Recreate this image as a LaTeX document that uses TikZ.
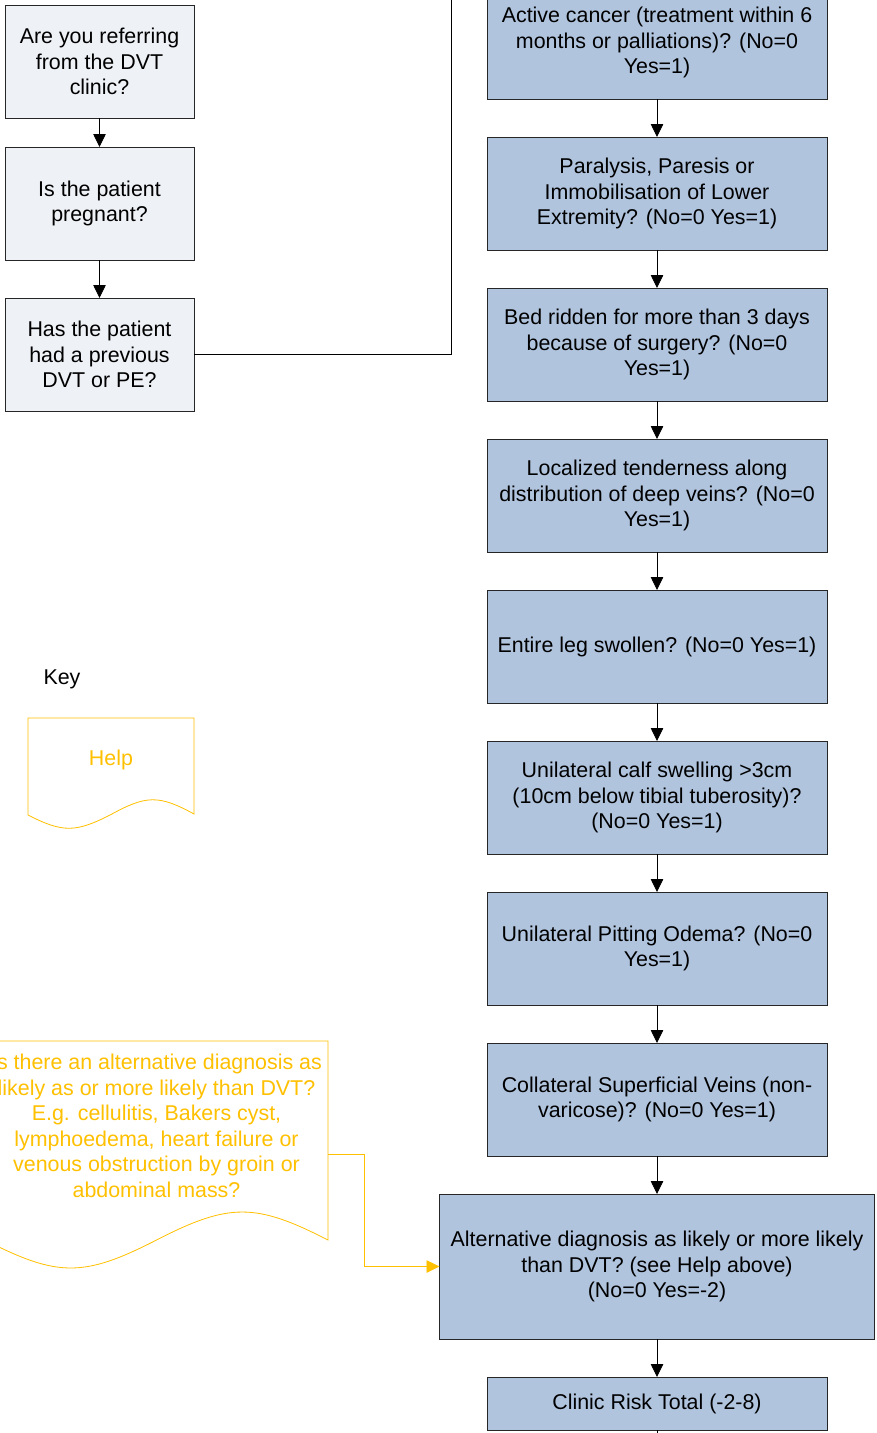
\documentclass[tikz,border=0pt]{standalone}
\usepackage{fontspec}
\setmainfont{Liberation Sans}
\usepackage{tikz}
\usetikzlibrary{positioning,arrows.meta,calc}
\definecolor{riskfill}{RGB}{176,196,222}
\definecolor{askfill}{RGB}{238,241,246}
\definecolor{helpgold}{RGB}{255,192,0}
\tikzset{
  askbox/.style={draw=black!85, line width=0.8pt, fill=askfill, rectangle, minimum width=189pt, minimum height=113pt, align=center, inner sep=0pt, outer sep=0pt},
  riskbox/.style={draw=black!85, line width=0.8pt, fill=riskfill, rectangle, minimum width=340pt, minimum height=113pt, align=center, inner sep=0pt, outer sep=0pt},
  flow/.style={line width=0.8pt, -{Triangle[length=13pt,width=12.5pt]}},
  helpline/.style={draw=helpgold, line width=0.8pt},
}
\begin{document}
\begin{tikzpicture}[node distance=38pt, x=1pt, y=-1pt, font=\fontsize{21.4}{25.5}\selectfont]
            \useasboundingbox (0,0) rectangle (876,1433);
            \node[askbox](referring) at (99.5,61.5){Are you referring\\from the DVT\\clinic?};
            \node[askbox, below=29pt of referring](pregnant){Is the patient\\pregnant?};
            \draw[flow](referring.south)--(pregnant.north);
            \node[askbox, below=of pregnant](previous){Has the patient\\had a previous\\DVT or PE?};
            \draw[flow](pregnant.south)--(previous.north);
            \coordinate(topexit) at (451,-10);
            \draw[line width=0.8pt](previous.east) -| (topexit);

            \node[riskbox](cancer) at (657,42.5){Active cancer (treatment within 6\\months or palliations)? (No=0\\Yes=1)};
            \node[riskbox, below=of cancer](paralysis){Paralysis, Paresis or\\Immobilisation of Lower\\Extremity? (No=0 Yes=1)};
            \draw[flow](cancer.south)--(paralysis.north);
            \node[riskbox, below=of paralysis](bedridden){Bed ridden for more than 3 days\\because of surgery? (No=0\\Yes=1)};
            \draw[flow](paralysis.south)--(bedridden.north);
            \node[riskbox, below=of bedridden](tenderness){Localized tenderness along\\distribution of deep veins? (No=0\\Yes=1)};
            \draw[flow](bedridden.south)--(tenderness.north);
            \node[riskbox, below=of tenderness](legswollen){Entire leg swollen? (No=0 Yes=1)};
            \draw[flow](tenderness.south)--(legswollen.north);
            \node[riskbox, below=of legswollen](calf){Unilateral calf swelling >3cm\\(10cm below tibial tuberosity)?\\(No=0 Yes=1)};
            \draw[flow](legswollen.south)--(calf.north);
            \node[riskbox, below=of calf](pitting){Unilateral Pitting Odema? (No=0\\Yes=1)};
            \draw[flow](calf.south)--(pitting.north);
            \node[riskbox, below=of pitting](collateral){Collateral Superficial Veins (non-\\varicose)? (No=0 Yes=1)};
            \draw[flow](pitting.south)--(collateral.north);
            \node[riskbox, minimum width=435pt, minimum height=145pt, below=of collateral](alt){Alternative diagnosis as likely or more likely\\than DVT? (see Help above)\\(No=0 Yes=-2)};
            \draw[flow](collateral.south)--(alt.north);
            \node[riskbox, minimum height=53pt, below=of alt](total){Clinic Risk Total (-2-8)};
            \draw[flow](alt.south)--(total.north);
            \coordinate(bottomexit) at (657,1450);
            \draw[line width=0.8pt](total.south)--(bottomexit);

            % key
            \node(keylabel) at (62,679){Key};
            \draw[helpline, fill=white](28,815)--(28,718)--(194,718)--(194,814) .. controls (158.8,794.7) and (146.2,795.2) .. (111,814.5) .. controls (75.8,832.5) and (63.2,833) .. (28,815)--cycle;
            \node(helpnote) at (111,760){\color{helpgold}Help};

            % help for the alternative diagnosis
            \draw[helpline, fill=white](-15,1240)--(-15,1041)--(328,1041)--(328,1240) .. controls (255.3,1202.7) and (229.2,1202.7) .. (156.5,1240) .. controls (83.8,1277.3) and (57.7,1277.3) .. (-15,1240)--cycle;
            \node[align=center](altnote) at (156.5,1126){\color{helpgold}Is there an alternative diagnosis as\\\color{helpgold}likely as or more likely than DVT?\\\color{helpgold}E.g. cellulitis, Bakers cyst,\\\color{helpgold}lymphoedema, heart failure or\\\color{helpgold}venous obstruction by groin or\\\color{helpgold}abdominal mass?};
            \coordinate(altnote-out) at (328,1154);
            \draw[helpline, flow](altnote-out)--++(36,0) |- (alt.west);
        \end{tikzpicture}
\end{document}
